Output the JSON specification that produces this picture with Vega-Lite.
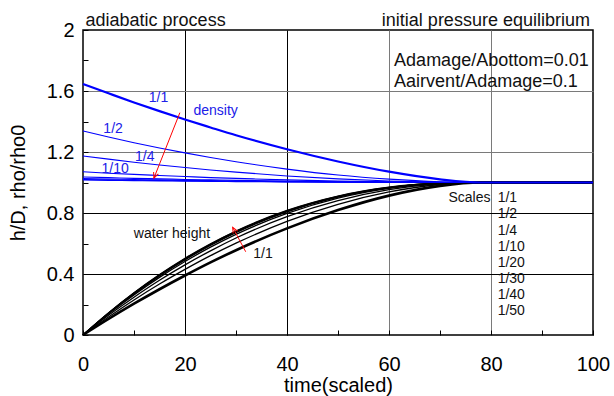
{
  "$schema": "https://vega.github.io/schema/vega-lite/v6.json",
  "width": 510,
  "height": 305,
  "autosize": {"type": "none"},
  "padding": {"left": 83, "top": 30, "right": 21, "bottom": 61},
  "background": "white",
  "config": {
    "font": "Liberation Sans",
    "view": {"stroke": "#000", "strokeWidth": 1.5}
  },
  "datasets": {
    "curves": [
      {"t":0,"v":1.646,"kind":"density","scale":"1/1"},{"t":5,"v":1.585,"kind":"density","scale":"1/1"},{"t":10,"v":1.525,"kind":"density","scale":"1/1"},{"t":15,"v":1.468,"kind":"density","scale":"1/1"},{"t":20,"v":1.413,"kind":"density","scale":"1/1"},{"t":25,"v":1.361,"kind":"density","scale":"1/1"},{"t":30,"v":1.31,"kind":"density","scale":"1/1"},{"t":40,"v":1.218,"kind":"density","scale":"1/1"},{"t":50,"v":1.138,"kind":"density","scale":"1/1"},{"t":60,"v":1.071,"kind":"density","scale":"1/1"},{"t":70,"v":1.021,"kind":"density","scale":"1/1"},{"t":78,"v":1.0,"kind":"density","scale":"1/1"},{"t":100,"v":1.0,"kind":"density","scale":"1/1"},
      {"t":0,"v":1.338,"kind":"density","scale":"1/2"},{"t":5,"v":1.298,"kind":"density","scale":"1/2"},{"t":10,"v":1.261,"kind":"density","scale":"1/2"},{"t":15,"v":1.226,"kind":"density","scale":"1/2"},{"t":20,"v":1.194,"kind":"density","scale":"1/2"},{"t":25,"v":1.164,"kind":"density","scale":"1/2"},{"t":30,"v":1.136,"kind":"density","scale":"1/2"},{"t":40,"v":1.088,"kind":"density","scale":"1/2"},{"t":50,"v":1.049,"kind":"density","scale":"1/2"},{"t":60,"v":1.022,"kind":"density","scale":"1/2"},{"t":70,"v":1.005,"kind":"density","scale":"1/2"},{"t":78,"v":1.0,"kind":"density","scale":"1/2"},{"t":100,"v":1.0,"kind":"density","scale":"1/2"},
      {"t":0,"v":1.174,"kind":"density","scale":"1/4"},{"t":5,"v":1.153,"kind":"density","scale":"1/4"},{"t":10,"v":1.133,"kind":"density","scale":"1/4"},{"t":15,"v":1.115,"kind":"density","scale":"1/4"},{"t":20,"v":1.098,"kind":"density","scale":"1/4"},{"t":25,"v":1.082,"kind":"density","scale":"1/4"},{"t":30,"v":1.068,"kind":"density","scale":"1/4"},{"t":40,"v":1.043,"kind":"density","scale":"1/4"},{"t":50,"v":1.024,"kind":"density","scale":"1/4"},{"t":60,"v":1.01,"kind":"density","scale":"1/4"},{"t":70,"v":1.002,"kind":"density","scale":"1/4"},{"t":78,"v":1.0,"kind":"density","scale":"1/4"},{"t":100,"v":1.0,"kind":"density","scale":"1/4"},
      {"t":0,"v":1.07,"kind":"density","scale":"1/10"},{"t":5,"v":1.061,"kind":"density","scale":"1/10"},{"t":10,"v":1.053,"kind":"density","scale":"1/10"},{"t":15,"v":1.046,"kind":"density","scale":"1/10"},{"t":20,"v":1.039,"kind":"density","scale":"1/10"},{"t":25,"v":1.032,"kind":"density","scale":"1/10"},{"t":30,"v":1.027,"kind":"density","scale":"1/10"},{"t":40,"v":1.017,"kind":"density","scale":"1/10"},{"t":50,"v":1.009,"kind":"density","scale":"1/10"},{"t":60,"v":1.004,"kind":"density","scale":"1/10"},{"t":70,"v":1.001,"kind":"density","scale":"1/10"},{"t":78,"v":1.0,"kind":"density","scale":"1/10"},{"t":100,"v":1.0,"kind":"density","scale":"1/10"},
      {"t":0,"v":1.036,"kind":"density","scale":"1/20"},{"t":5,"v":1.032,"kind":"density","scale":"1/20"},{"t":10,"v":1.027,"kind":"density","scale":"1/20"},{"t":15,"v":1.024,"kind":"density","scale":"1/20"},{"t":20,"v":1.02,"kind":"density","scale":"1/20"},{"t":25,"v":1.017,"kind":"density","scale":"1/20"},{"t":30,"v":1.014,"kind":"density","scale":"1/20"},{"t":40,"v":1.009,"kind":"density","scale":"1/20"},{"t":50,"v":1.005,"kind":"density","scale":"1/20"},{"t":60,"v":1.002,"kind":"density","scale":"1/20"},{"t":70,"v":1.0,"kind":"density","scale":"1/20"},{"t":78,"v":1.0,"kind":"density","scale":"1/20"},{"t":100,"v":1.0,"kind":"density","scale":"1/20"},
      {"t":0,"v":1.026,"kind":"density","scale":"1/30"},{"t":5,"v":1.023,"kind":"density","scale":"1/30"},{"t":10,"v":1.02,"kind":"density","scale":"1/30"},{"t":15,"v":1.017,"kind":"density","scale":"1/30"},{"t":20,"v":1.014,"kind":"density","scale":"1/30"},{"t":25,"v":1.012,"kind":"density","scale":"1/30"},{"t":30,"v":1.01,"kind":"density","scale":"1/30"},{"t":40,"v":1.006,"kind":"density","scale":"1/30"},{"t":50,"v":1.003,"kind":"density","scale":"1/30"},{"t":60,"v":1.001,"kind":"density","scale":"1/30"},{"t":70,"v":1.0,"kind":"density","scale":"1/30"},{"t":78,"v":1.0,"kind":"density","scale":"1/30"},{"t":100,"v":1.0,"kind":"density","scale":"1/30"},
      {"t":0,"v":1.02,"kind":"density","scale":"1/40"},{"t":5,"v":1.018,"kind":"density","scale":"1/40"},{"t":10,"v":1.015,"kind":"density","scale":"1/40"},{"t":15,"v":1.013,"kind":"density","scale":"1/40"},{"t":20,"v":1.011,"kind":"density","scale":"1/40"},{"t":25,"v":1.009,"kind":"density","scale":"1/40"},{"t":30,"v":1.008,"kind":"density","scale":"1/40"},{"t":40,"v":1.005,"kind":"density","scale":"1/40"},{"t":50,"v":1.003,"kind":"density","scale":"1/40"},{"t":60,"v":1.001,"kind":"density","scale":"1/40"},{"t":70,"v":1.0,"kind":"density","scale":"1/40"},{"t":78,"v":1.0,"kind":"density","scale":"1/40"},{"t":100,"v":1.0,"kind":"density","scale":"1/40"},
      {"t":0,"v":1.016,"kind":"density","scale":"1/50"},{"t":5,"v":1.014,"kind":"density","scale":"1/50"},{"t":10,"v":1.012,"kind":"density","scale":"1/50"},{"t":15,"v":1.01,"kind":"density","scale":"1/50"},{"t":20,"v":1.009,"kind":"density","scale":"1/50"},{"t":25,"v":1.007,"kind":"density","scale":"1/50"},{"t":30,"v":1.006,"kind":"density","scale":"1/50"},{"t":40,"v":1.004,"kind":"density","scale":"1/50"},{"t":50,"v":1.002,"kind":"density","scale":"1/50"},{"t":60,"v":1.001,"kind":"density","scale":"1/50"},{"t":70,"v":1.0,"kind":"density","scale":"1/50"},{"t":78,"v":1.0,"kind":"density","scale":"1/50"},{"t":100,"v":1.0,"kind":"density","scale":"1/50"},
      {"t":0,"v":0,"kind":"height","scale":"1/1"},{"t":5,"v":0.105,"kind":"height","scale":"1/1"},{"t":10,"v":0.205,"kind":"height","scale":"1/1"},{"t":15,"v":0.3,"kind":"height","scale":"1/1"},{"t":20,"v":0.39,"kind":"height","scale":"1/1"},{"t":25,"v":0.476,"kind":"height","scale":"1/1"},{"t":30,"v":0.556,"kind":"height","scale":"1/1"},{"t":40,"v":0.699,"kind":"height","scale":"1/1"},{"t":50,"v":0.819,"kind":"height","scale":"1/1"},{"t":60,"v":0.914,"kind":"height","scale":"1/1"},{"t":70,"v":0.978,"kind":"height","scale":"1/1"},{"t":78,"v":1.0,"kind":"height","scale":"1/1"},{"t":100,"v":1.0,"kind":"height","scale":"1/1"},
      {"t":0,"v":0,"kind":"height","scale":"1/2"},{"t":5,"v":0.118,"kind":"height","scale":"1/2"},{"t":10,"v":0.23,"kind":"height","scale":"1/2"},{"t":15,"v":0.334,"kind":"height","scale":"1/2"},{"t":20,"v":0.43,"kind":"height","scale":"1/2"},{"t":25,"v":0.52,"kind":"height","scale":"1/2"},{"t":30,"v":0.602,"kind":"height","scale":"1/2"},{"t":40,"v":0.745,"kind":"height","scale":"1/2"},{"t":50,"v":0.857,"kind":"height","scale":"1/2"},{"t":60,"v":0.938,"kind":"height","scale":"1/2"},{"t":70,"v":0.987,"kind":"height","scale":"1/2"},{"t":78,"v":1.0,"kind":"height","scale":"1/2"},{"t":100,"v":1.0,"kind":"height","scale":"1/2"},
      {"t":0,"v":0,"kind":"height","scale":"1/4"},{"t":5,"v":0.129,"kind":"height","scale":"1/4"},{"t":10,"v":0.248,"kind":"height","scale":"1/4"},{"t":15,"v":0.359,"kind":"height","scale":"1/4"},{"t":20,"v":0.46,"kind":"height","scale":"1/4"},{"t":25,"v":0.552,"kind":"height","scale":"1/4"},{"t":30,"v":0.636,"kind":"height","scale":"1/4"},{"t":40,"v":0.776,"kind":"height","scale":"1/4"},{"t":50,"v":0.881,"kind":"height","scale":"1/4"},{"t":60,"v":0.953,"kind":"height","scale":"1/4"},{"t":70,"v":0.991,"kind":"height","scale":"1/4"},{"t":78,"v":1.0,"kind":"height","scale":"1/4"},{"t":100,"v":1.0,"kind":"height","scale":"1/4"},
      {"t":0,"v":0,"kind":"height","scale":"1/10"},{"t":5,"v":0.137,"kind":"height","scale":"1/10"},{"t":10,"v":0.263,"kind":"height","scale":"1/10"},{"t":15,"v":0.378,"kind":"height","scale":"1/10"},{"t":20,"v":0.482,"kind":"height","scale":"1/10"},{"t":25,"v":0.576,"kind":"height","scale":"1/10"},{"t":30,"v":0.66,"kind":"height","scale":"1/10"},{"t":40,"v":0.797,"kind":"height","scale":"1/10"},{"t":50,"v":0.897,"kind":"height","scale":"1/10"},{"t":60,"v":0.961,"kind":"height","scale":"1/10"},{"t":70,"v":0.994,"kind":"height","scale":"1/10"},{"t":78,"v":1.0,"kind":"height","scale":"1/10"},{"t":100,"v":1.0,"kind":"height","scale":"1/10"},
      {"t":0,"v":0,"kind":"height","scale":"1/20"},{"t":5,"v":0.141,"kind":"height","scale":"1/20"},{"t":10,"v":0.27,"kind":"height","scale":"1/20"},{"t":15,"v":0.387,"kind":"height","scale":"1/20"},{"t":20,"v":0.493,"kind":"height","scale":"1/20"},{"t":25,"v":0.587,"kind":"height","scale":"1/20"},{"t":30,"v":0.671,"kind":"height","scale":"1/20"},{"t":40,"v":0.807,"kind":"height","scale":"1/20"},{"t":50,"v":0.904,"kind":"height","scale":"1/20"},{"t":60,"v":0.965,"kind":"height","scale":"1/20"},{"t":70,"v":0.995,"kind":"height","scale":"1/20"},{"t":78,"v":1.0,"kind":"height","scale":"1/20"},{"t":100,"v":1.0,"kind":"height","scale":"1/20"},
      {"t":0,"v":0,"kind":"height","scale":"1/30"},{"t":5,"v":0.143,"kind":"height","scale":"1/30"},{"t":10,"v":0.273,"kind":"height","scale":"1/30"},{"t":15,"v":0.391,"kind":"height","scale":"1/30"},{"t":20,"v":0.497,"kind":"height","scale":"1/30"},{"t":25,"v":0.592,"kind":"height","scale":"1/30"},{"t":30,"v":0.676,"kind":"height","scale":"1/30"},{"t":40,"v":0.811,"kind":"height","scale":"1/30"},{"t":50,"v":0.907,"kind":"height","scale":"1/30"},{"t":60,"v":0.967,"kind":"height","scale":"1/30"},{"t":70,"v":0.995,"kind":"height","scale":"1/30"},{"t":78,"v":1.0,"kind":"height","scale":"1/30"},{"t":100,"v":1.0,"kind":"height","scale":"1/30"},
      {"t":0,"v":0,"kind":"height","scale":"1/40"},{"t":5,"v":0.144,"kind":"height","scale":"1/40"},{"t":10,"v":0.275,"kind":"height","scale":"1/40"},{"t":15,"v":0.393,"kind":"height","scale":"1/40"},{"t":20,"v":0.5,"kind":"height","scale":"1/40"},{"t":25,"v":0.595,"kind":"height","scale":"1/40"},{"t":30,"v":0.679,"kind":"height","scale":"1/40"},{"t":40,"v":0.814,"kind":"height","scale":"1/40"},{"t":50,"v":0.909,"kind":"height","scale":"1/40"},{"t":60,"v":0.968,"kind":"height","scale":"1/40"},{"t":70,"v":0.995,"kind":"height","scale":"1/40"},{"t":78,"v":1.0,"kind":"height","scale":"1/40"},{"t":100,"v":1.0,"kind":"height","scale":"1/40"},
      {"t":0,"v":0,"kind":"height","scale":"1/50"},{"t":5,"v":0.145,"kind":"height","scale":"1/50"},{"t":10,"v":0.277,"kind":"height","scale":"1/50"},{"t":15,"v":0.396,"kind":"height","scale":"1/50"},{"t":20,"v":0.503,"kind":"height","scale":"1/50"},{"t":25,"v":0.598,"kind":"height","scale":"1/50"},{"t":30,"v":0.682,"kind":"height","scale":"1/50"},{"t":40,"v":0.817,"kind":"height","scale":"1/50"},{"t":50,"v":0.911,"kind":"height","scale":"1/50"},{"t":60,"v":0.969,"kind":"height","scale":"1/50"},{"t":70,"v":0.995,"kind":"height","scale":"1/50"},{"t":78,"v":1.0,"kind":"height","scale":"1/50"},{"t":100,"v":1.0,"kind":"height","scale":"1/50"}
    ]
  },
  "encoding": {
    "x": {
      "field": "t", "type": "quantitative",
      "scale": {"domain": [0, 100], "nice": false, "zero": false},
      "axis": {
        "values": [0, 10, 20, 30, 40, 50, 60, 70, 80, 90, 100],
        "title": "time(scaled)",
        "labelExpr": "datum.value % 20 === 0 ? datum.label : ''",
        "labelOverlap": false, "labelFlush": false, "labelBound": false,
        "grid": true,
        "gridColor": {"condition": {"test": "datum.value >= 60", "value": "#7a7a7a"}, "value": "#000000"},
        "gridOpacity": {"condition": {"test": "datum.value % 20 === 0 && datum.value > 0 && datum.value < 100", "value": 1}, "value": 0},
        "gridWidth": 1,
        "domain": false,
        "tickSize": -5, "tickColor": "#000", "tickWidth": 1,
        "labelFont": "Liberation Sans", "labelFontSize": 20, "labelColor": "#000", "labelPadding": 24,
        "titleFont": "Liberation Sans", "titleFontSize": 20, "titleFontWeight": "normal", "titleColor": "#000", "titlePadding": 1
      }
    },
    "y": {
      "field": "v", "type": "quantitative",
      "scale": {"domain": [0, 2], "nice": false, "zero": false},
      "axis": {
        "values": [0, 0.2, 0.4, 0.6, 0.8, 1, 1.2, 1.4, 1.6, 1.8, 2],
        "format": "~g",
        "title": "h/D, rho/rho0",
        "labelExpr": "indexof([0, 0.4, 0.8, 1.2, 1.6, 2], datum.value) >= 0 ? datum.label : ''",
        "labelOverlap": false, "labelFlush": false, "labelBound": false,
        "grid": true,
        "gridColor": {"condition": {"test": "datum.value >= 1.1", "value": "#7a7a7a"}, "value": "#000000"},
        "gridOpacity": {"condition": {"test": "indexof([0.4, 0.8, 1.2, 1.6], datum.value) >= 0", "value": 1}, "value": 0},
        "gridWidth": 1,
        "domain": false,
        "tickSize": -5, "tickColor": "#000", "tickWidth": 1,
        "labelFont": "Liberation Sans", "labelFontSize": 20, "labelColor": "#000", "labelPadding": 14,
        "titleFont": "Liberation Sans", "titleFontSize": 20, "titleFontWeight": "normal", "titleColor": "#000", "titlePadding": 18
      }
    }
  },
  "layer": [
    {
      "data": {"name": "curves"},
      "transform": [{"filter": "datum.kind === 'height'"}],
      "mark": {"type": "line", "interpolate": "monotone", "color": "#000"},
      "encoding": {
        "detail": {"field": "scale", "type": "nominal"},
        "strokeWidth": {"condition": {"test": "datum.scale === '1/1'", "value": 2.6}, "value": 1.3}
      }
    },
    {
      "data": {"name": "curves"},
      "transform": [{"filter": "datum.kind === 'density'"}],
      "mark": {"type": "line", "interpolate": "monotone", "color": "#0000ff"},
      "encoding": {
        "detail": {"field": "scale", "type": "nominal"},
        "strokeWidth": {"condition": {"test": "datum.scale === '1/1'", "value": 2.2}, "value": 1.1}
      }
    },
    {
      "data": {"values": [
        {"t": 14.8, "v": 1.552, "label": "1/1"},
        {"t": 26.0, "v": 1.47, "label": "density"},
        {"t": 5.9, "v": 1.348, "label": "1/2"},
        {"t": 12.1, "v": 1.164, "label": "1/4"},
        {"t": 6.3, "v": 1.091, "label": "1/10"}
      ]},
      "mark": {"type": "text", "font": "Liberation Sans", "fontSize": 14, "color": "#2020e8", "align": "center", "baseline": "middle"},
      "encoding": {"text": {"field": "label"}}
    },
    {
      "data": {"values": [
        {"t": 17.45, "v": 0.664, "label": "water height"},
        {"t": 35.3, "v": 0.529, "label": "1/1"}
      ]},
      "mark": {"type": "text", "font": "Liberation Sans", "fontSize": 14, "color": "#111", "align": "center", "baseline": "middle"},
      "encoding": {"text": {"field": "label"}}
    },
    {
      "data": {"values": [{"t": 79.9, "v": 0.896, "label": "Scales"}]},
      "mark": {"type": "text", "font": "Liberation Sans", "fontSize": 14, "color": "#111", "align": "right", "baseline": "middle"},
      "encoding": {"text": {"field": "label"}}
    },
    {
      "data": {"values": [
        {"t": 81.3, "v": 0.896, "label": "1/1"},
        {"t": 81.3, "v": 0.791, "label": "1/2"},
        {"t": 81.3, "v": 0.685, "label": "1/4"},
        {"t": 81.3, "v": 0.579, "label": "1/10"},
        {"t": 81.3, "v": 0.473, "label": "1/20"},
        {"t": 81.3, "v": 0.367, "label": "1/30"},
        {"t": 81.3, "v": 0.261, "label": "1/40"},
        {"t": 81.3, "v": 0.155, "label": "1/50"}
      ]},
      "mark": {"type": "text", "font": "Liberation Sans", "fontSize": 14, "color": "#111", "align": "left", "baseline": "middle"},
      "encoding": {"text": {"field": "label"}}
    },
    {
      "data": {"values": [
        {"t": 61.0, "v": 1.766, "label": "Adamage/Abottom=0.01"},
        {"t": 61.0, "v": 1.628, "label": "Aairvent/Adamage=0.1"},
        {"t": 0.5, "v": 2.028, "label": "adiabatic process"}
      ]},
      "mark": {"type": "text", "font": "Liberation Sans", "fontSize": 18, "color": "#111", "align": "left", "baseline": "alphabetic"},
      "encoding": {"text": {"field": "label"}}
    },
    {
      "data": {"values": [{"t": 99.4, "v": 2.028, "label": "initial pressure equilibrium"}]},
      "mark": {"type": "text", "font": "Liberation Sans", "fontSize": 18, "color": "#111", "align": "right", "baseline": "alphabetic"},
      "encoding": {"text": {"field": "label"}}
    },
    {
      "data": {"values": [
        {"t": 19.0, "v": 1.458, "t2": 13.9, "v2": 1.028},
        {"t": 31.9, "v": 0.546, "t2": 29.35, "v2": 0.706}
      ]},
      "mark": {"type": "rule", "color": "#ff0000", "strokeWidth": 1},
      "encoding": {"x2": {"field": "t2"}, "y2": {"field": "v2"}}
    },
    {
      "data": {"values": [{"t": 13.9, "v": 1.028}]},
      "mark": {"type": "point", "shape": "M -0.45 1 L 0 0 L 0.45 1", "filled": false, "color": "#ff0000", "strokeWidth": 1, "size": 130, "angle": 201.6, "opacity": 1},
      "encoding": {}
    },
    {
      "data": {"values": [{"t": 29.35, "v": 0.706}]},
      "mark": {"type": "point", "shape": "M -0.45 1 L 0 0 L 0.45 1", "filled": false, "color": "#ff0000", "strokeWidth": 1, "size": 130, "angle": 332, "opacity": 1},
      "encoding": {}
    }
  ]
}
